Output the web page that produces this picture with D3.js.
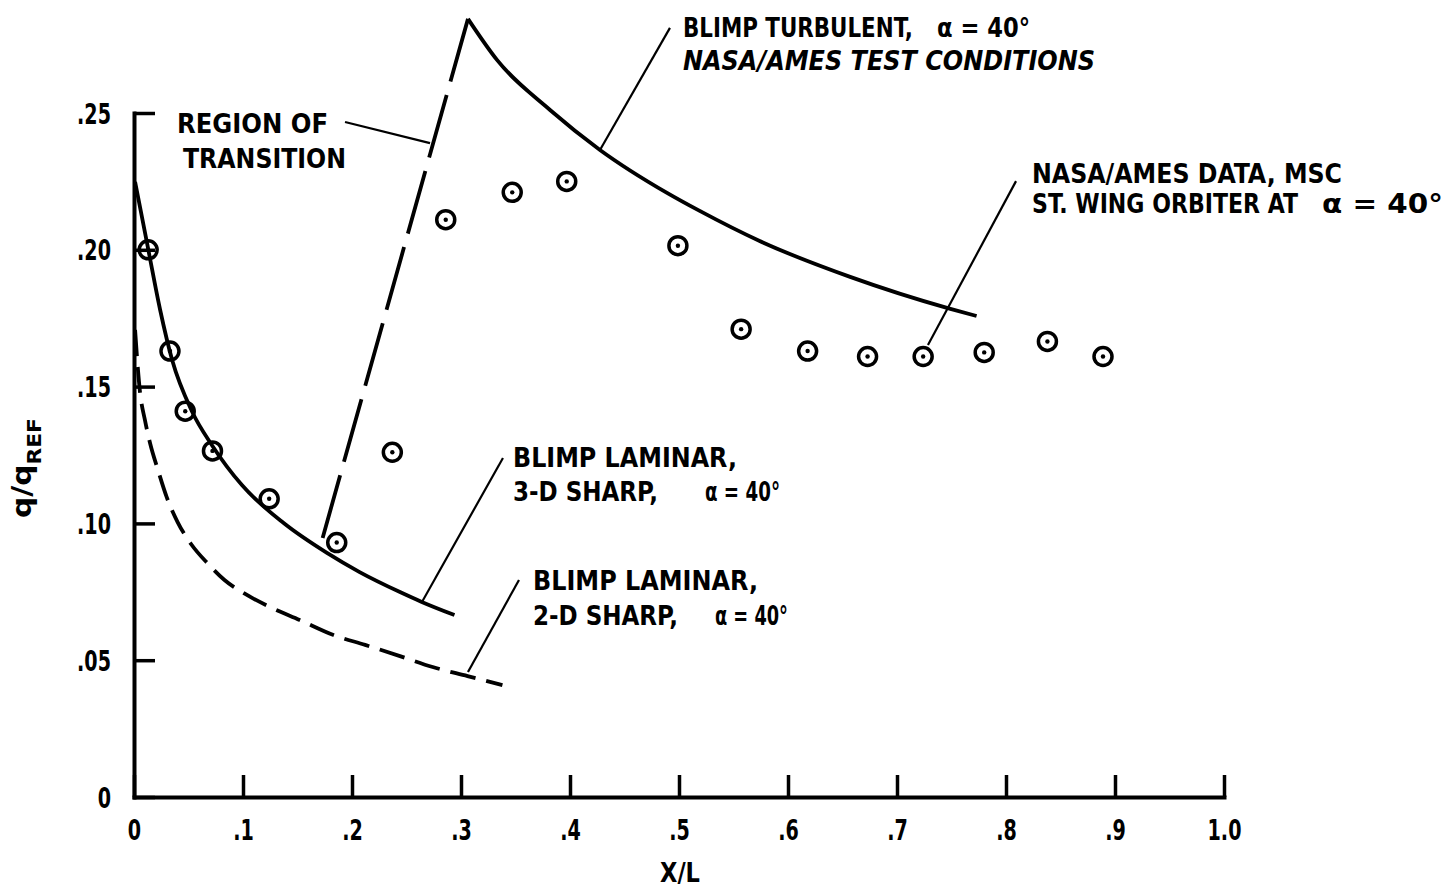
<!DOCTYPE html>
<html>
<head>
<meta charset="utf-8">
<script src="https://cdn.jsdelivr.net/npm/d3@7"></script>
<style>
  html, body { margin: 0; padding: 0; background: #fff; }
  svg { display: block; }
  text {
    font-family: "Liberation Sans Narrow", "DejaVu Sans Condensed", "Roboto Condensed", "Liberation Sans", sans-serif;
    font-weight: bold;
    fill: #000;
  }
</style>
</head>
<body>
<svg id="chart" width="1447" height="888"></svg>
<script>
// ---- axis ticks ----
const xTicks = [0, 0.1, 0.2, 0.3, 0.4, 0.5, 0.6, 0.7, 0.8, 0.9, 1.0];
const xTickLabels = ["0", ".1", ".2", ".3", ".4", ".5", ".6", ".7", ".8", ".9", "1.0"];
const yTicks = [0, 0.05, 0.10, 0.15, 0.20, 0.25];
const yTickLabels = ["0", ".05", ".10", ".15", ".20", ".25"];

// ---- NASA/Ames data, MSC straight-wing orbiter at alpha = 40 deg ----
const amesX = [0.013, 0.033, 0.047, 0.072, 0.124, 0.186, 0.237, 0.286, 0.347, 0.397,
               0.499, 0.557, 0.618, 0.673, 0.724, 0.780, 0.838, 0.889];
const amesQ = [0.200, 0.163, 0.141, 0.1265, 0.109, 0.093, 0.126, 0.211, 0.221, 0.225,
               0.2015, 0.171, 0.163, 0.161, 0.161, 0.1625, 0.1665, 0.161];

// ---- Blimp laminar, 3-D sharp ----
const lam3dX = [0.001, 0.013, 0.024, 0.035, 0.053, 0.072, 0.099, 0.137, 0.177, 0.207, 0.244, 0.264, 0.294];
const lam3dQ = [0.2248, 0.2003, 0.1780, 0.1597, 0.1411, 0.1283, 0.1140, 0.1002, 0.0892, 0.0822, 0.0749, 0.0713, 0.0665];

// ---- Blimp laminar, 2-D sharp ----
const lam2dX = [0.001, 0.0055, 0.010, 0.0147, 0.022, 0.030, 0.040, 0.053, 0.068, 0.083,
                0.102, 0.125, 0.152, 0.183, 0.212, 0.244, 0.274, 0.306, 0.338];
const lam2dQ = [0.1707, 0.148, 0.1378, 0.1294, 0.1195, 0.1096, 0.1005, 0.0921, 0.0852, 0.0793,
                0.0742, 0.0694, 0.0647, 0.0592, 0.0556, 0.0515, 0.0475, 0.0442, 0.0409];

// ---- Blimp turbulent, NASA/Ames test conditions ----
const turbX = [0.3064, 0.333, 0.3817, 0.4275, 0.489, 0.519, 0.574, 0.657, 0.749, 0.773];
const turbQ = [0.2844, 0.2694, 0.2511, 0.2365, 0.2208, 0.2142, 0.2032, 0.1901, 0.1784, 0.1758];

// ---- region of transition (turbulent peak down to the laminar branch) ----
const transX = [0.3064, 0.1725];
const transQ = [0.2844, 0.0939];

// ---- leader lines from labels to curves (data units) ----
const leaderX1 = [0.4917, 0.1936, 0.3385, 0.3532, 0.8092];
const leaderQ1 = [0.2811, 0.2467, 0.1239, 0.0793, 0.2251];
const leaderX2 = [0.4275, 0.2716, 0.2642, 0.3064, 0.7284];
const leaderQ2 = [0.2365, 0.2390, 0.0713, 0.0457, 0.1652];

// ---- layout ----
const svg = d3.select("#chart");
const x = d3.scaleLinear().domain([0, 1]).range([134, 1224]);
const y = d3.scaleLinear().domain([0, 0.25]).range([797, 113]);
const ink = "#000";
const narrow = 0.76;   // horizontal squeeze for tick numerals

const zip = (xs, qs) => xs.map((v, i) => [v, qs[i]]);
const line = d3.line().x(d => x(d[0])).y(d => y(d[1])).curve(d3.curveMonotoneX);
const straight = d3.line().x(d => x(d[0])).y(d => y(d[1]));

// axes
const xAxis = d3.axisBottom(x)
  .tickValues(xTicks)
  .tickFormat((d, i) => xTickLabels[i])
  .tickSizeInner(-22).tickSizeOuter(0).tickPadding(23);
const yAxis = d3.axisLeft(y)
  .tickValues(yTicks)
  .tickFormat((d, i) => yTickLabels[i])
  .tickSizeInner(-21).tickSizeOuter(0).tickPadding(23);

const gx = svg.append("g").attr("transform", `translate(0,${y(0)})`).call(xAxis);
const gy = svg.append("g").attr("transform", `translate(${x(0)},0)`).call(yAxis);
[gx, gy].forEach(g => {
  g.attr("font-family", null).attr("font-size", null);
  g.select(".domain").attr("stroke", ink).attr("stroke-width", 4).attr("stroke-linecap", "square");
  g.selectAll(".tick line").attr("stroke", ink).attr("stroke-width", 3.5);
  g.selectAll(".tick text").attr("fill", ink).style("font-size", "28px");
});
gx.selectAll(".tick text").attr("transform", `scale(${narrow},1)`);
gy.selectAll(".tick text")
  .attr("dy", "0.36em")
  .attr("x", -23 / narrow)
  .attr("transform", `scale(${narrow},1)`);

// curves
svg.append("path")
  .attr("d", line(zip(lam3dX, lam3dQ)))
  .attr("fill", "none").attr("stroke", ink).attr("stroke-width", 3.8);

svg.append("path")
  .attr("d", line(zip(lam2dX, lam2dQ)))
  .attr("fill", "none").attr("stroke", ink).attr("stroke-width", 3.8)
  .attr("stroke-dasharray", "26,11");

svg.append("path")
  .attr("d", straight(zip(transX, transQ)))
  .attr("fill", "none").attr("stroke", ink).attr("stroke-width", 3.8)
  .attr("stroke-dasharray", "65,14");

svg.append("path")
  .attr("d", line(zip(turbX, turbQ)))
  .attr("fill", "none").attr("stroke", ink).attr("stroke-width", 3.8);

// leader lines
svg.append("g").selectAll("line")
  .data(leaderX1.map((v, i) => i))
  .join("line")
  .attr("x1", i => x(leaderX1[i])).attr("y1", i => y(leaderQ1[i]))
  .attr("x2", i => x(leaderX2[i])).attr("y2", i => y(leaderQ2[i]))
  .attr("stroke", ink).attr("stroke-width", 2.2);

// data symbols: circle with centre dot
const pts = svg.append("g").selectAll("g")
  .data(zip(amesX, amesQ))
  .join("g")
  .attr("transform", d => `translate(${x(d[0])},${y(d[1])})`);
pts.append("circle").attr("r", 9).attr("fill", "none").attr("stroke", ink).attr("stroke-width", 3.5);
pts.append("circle").attr("r", 2.2).attr("fill", ink);

// annotations
const notes = [
  { t: "BLIMP TURBULENT,", x: 683, y: 37, w: 230 },
  { t: "α = 40°", x: 937, y: 37, w: 93 },
  { t: "NASA/AMES TEST CONDITIONS", x: 683, y: 70, w: 412, it: true },
  { t: "REGION OF", x: 177, y: 133, w: 151 },
  { t: "TRANSITION", x: 183, y: 168, w: 163 },
  { t: "BLIMP LAMINAR,", x: 513, y: 467, w: 224 },
  { t: "3-D SHARP,", x: 513, y: 501, w: 145 },
  { t: "α = 40°", x: 705, y: 501, w: 75 },
  { t: "BLIMP LAMINAR,", x: 533, y: 590, w: 225 },
  { t: "2-D SHARP,", x: 533, y: 625, w: 145 },
  { t: "α = 40°", x: 715, y: 625, w: 73 },
  { t: "NASA/AMES DATA, MSC", x: 1032, y: 183, w: 310 },
  { t: "ST. WING ORBITER AT", x: 1032, y: 213, w: 266 },
  { t: "α = 40°", x: 1322, y: 213, w: 121 }
];
svg.append("g").selectAll("text")
  .data(notes)
  .join("text")
  .attr("x", d => d.x).attr("y", d => d.y)
  .attr("textLength", d => d.w)
  .attr("lengthAdjust", "spacingAndGlyphs")
  .style("font-size", "26px")
  .style("font-style", d => d.it ? "italic" : "normal")
  .text(d => d.t);

// axis titles
svg.append("text")
  .attr("x", 680).attr("y", 882)
  .attr("text-anchor", "middle")
  .attr("textLength", 40)
  .attr("lengthAdjust", "spacingAndGlyphs")
  .style("font-size", "26px")
  .text("X/L");

const yt = svg.append("text")
  .attr("transform", "translate(31,468) rotate(-90)")
  .attr("text-anchor", "middle")
  .attr("textLength", 100)
  .attr("lengthAdjust", "spacingAndGlyphs")
  .style("font-size", "26px");
yt.append("tspan").text("q/q");
yt.append("tspan").attr("dy", 10).style("font-size", "19px").text("REF");
</script>
</body>
</html>
